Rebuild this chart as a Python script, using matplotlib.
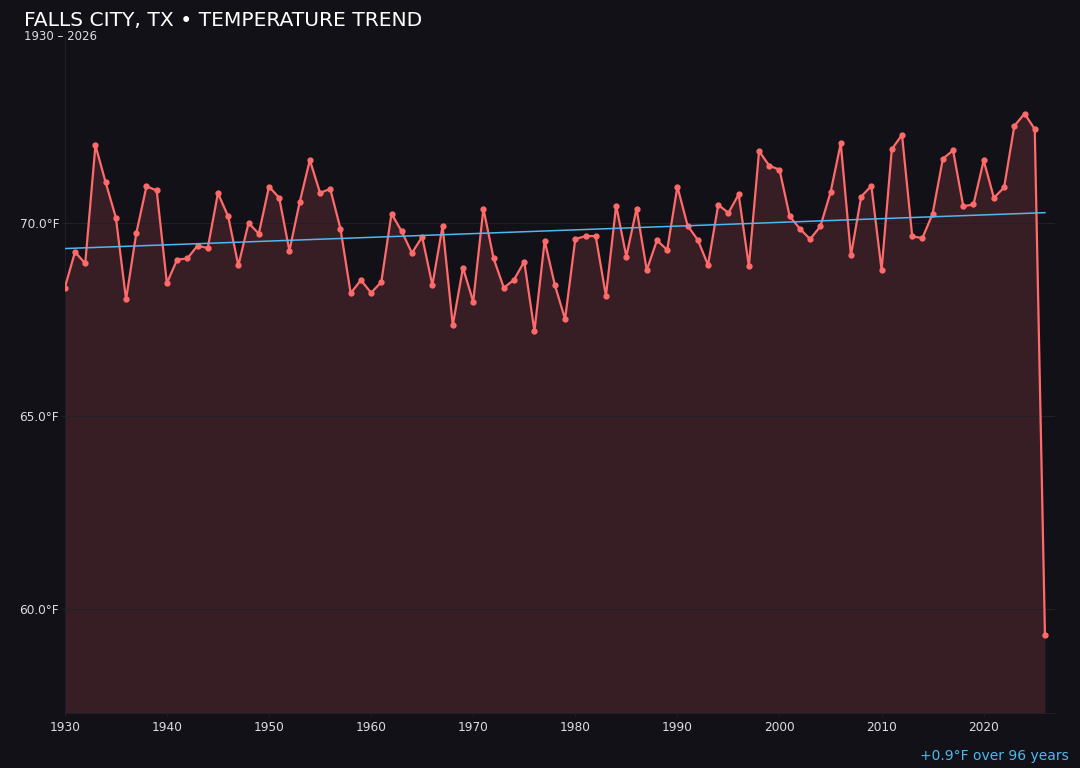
import numpy as np
import matplotlib
matplotlib.use("Agg")
import matplotlib.pyplot as plt

# annual mean temperature, Falls City TX
years = list(range(1930, 2027))
temps_f = [
    68.31, 69.24, 68.94, 72.00, 71.04, 70.13, 68.01, 69.72, 70.94, 70.83,
    68.43, 69.04, 69.07, 69.40, 69.34, 70.76, 70.16, 68.89, 69.99, 69.71,
    70.93, 70.64, 69.27, 70.52, 71.62, 70.77, 70.87, 69.84, 68.17, 68.51,
    68.18, 68.46, 70.23, 69.77, 69.21, 69.63, 68.38, 69.91, 67.34, 68.83,
    67.95, 70.36, 69.07, 68.31, 68.52, 68.99, 67.19, 69.53, 68.38, 67.50,
    69.57, 69.65, 69.65, 68.10, 70.44, 69.12, 70.36, 68.77, 69.54, 69.29,
    70.93, 69.92, 69.55, 68.90, 70.46, 70.25, 70.73, 68.87, 71.85, 71.47,
    71.37, 70.16, 69.84, 69.57, 69.90, 70.78, 72.05, 69.15, 70.67, 70.95,
    68.77, 71.90, 72.27, 69.64, 69.60, 70.23, 71.65, 71.87, 70.42, 70.47,
    71.61, 70.64, 70.91, 72.50, 72.82, 72.42, 59.33,
]
y_ticks = [60.0, 65.0, 70.0]
x_ticks = [1930, 1940, 1950, 1960, 1970, 1980, 1990, 2000, 2010, 2020]

BG = "#121118"
LINE = "#ff6b6b"
FILL = "#3a1f26"
TREND = "#4fb8f0"
TEXT = "#dcdce2"
GRID = "#241f27"

x = np.array(years, dtype=float)
y = np.array(temps_f)

# least-squares trend over all years
coef = np.polyfit(x, y, 1)
trend = np.polyval(coef, x)
change = trend[-1] - trend[0]

fig = plt.figure(figsize=(10.8, 7.68), dpi=100, facecolor=BG)
ax = fig.add_axes([0.060, 0.0716, 0.917, 0.880], facecolor=BG)

ymin, ymax = 57.3, 74.8
ax.fill_between(x, y, ymin, color=FILL, alpha=0.95, linewidth=0, zorder=1)
ax.plot(x, y, color=LINE, linewidth=1.6, marker="o", markersize=3.5, zorder=3)
ax.plot(x, trend, color=TREND, linewidth=1.1, zorder=4)

ax.set_xlim(1930, 2027)
ax.set_ylim(ymin, ymax)
ax.set_xticks(x_ticks)
ax.set_yticks(y_ticks)
ax.set_yticklabels([f"{v:.1f}°F" for v in y_ticks])
ax.tick_params(colors=TEXT, labelsize=8.7, length=2, pad=2, color=GRID)
ax.tick_params(axis="x", pad=4)
ax.grid(axis="y", color=GRID, linewidth=0.8, zorder=2)
for side in ("top", "right"):
    ax.spines[side].set_visible(False)
for side in ("left", "bottom"):
    ax.spines[side].set_color(GRID)

fig.text(0.022, 0.973, "FALLS CITY, TX • TEMPERATURE TREND", color="white",
         fontsize=14.6, va="center", ha="left")
fig.text(0.022, 0.953, "1930 – 2026", color=TEXT, fontsize=8.5,
         va="center", ha="left")
fig.text(0.990, 0.016, f"+{change:.1f}°F over {years[-1] - years[0]} years",
         color=TREND, fontsize=10, ha="right", va="center")

fig.savefig("out.png", dpi=100, facecolor=BG)
